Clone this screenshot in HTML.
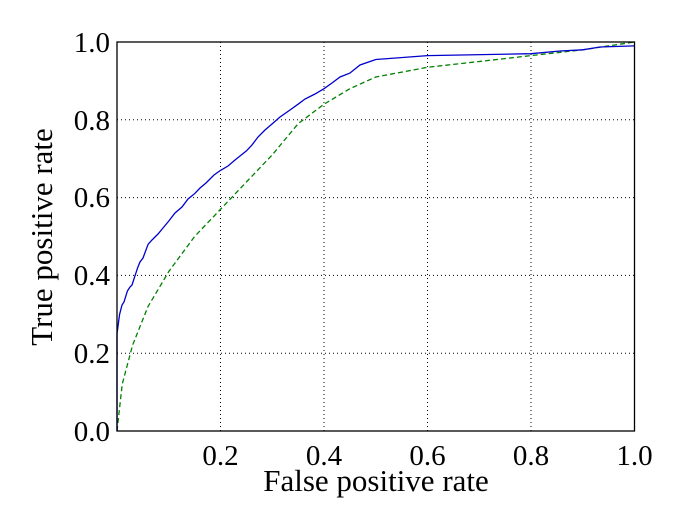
<!DOCTYPE html>
<html><head><style>body{margin:0;background:#fff}</style></head><body>
<svg width="679" height="516" xmlns="http://www.w3.org/2000/svg" font-family="Liberation Serif, serif">
<rect width="679" height="516" fill="#fff"/>
<g stroke="#000" stroke-width="1" stroke-dasharray="1,3">
<line x1="220.5" y1="42" x2="220.5" y2="431"/><line x1="324" y1="42" x2="324" y2="431"/><line x1="427.5" y1="42" x2="427.5" y2="431"/><line x1="531" y1="42" x2="531" y2="431"/>
<line x1="117" y1="353.2" x2="634.5" y2="353.2"/><line x1="117" y1="275.4" x2="634.5" y2="275.4"/><line x1="117" y1="197.6" x2="634.5" y2="197.6"/><line x1="117" y1="119.8" x2="634.5" y2="119.8"/>
</g>
<polyline fill="none" stroke="#008000" stroke-width="1.3" stroke-dasharray="5,3" points="117,431 122.2,384.3 132.5,345.4 148,306.5 168.8,271.5 194.6,236.5 220.5,209.3 246.4,182 272.3,154.8 298.1,123.7 324,104.2 349.9,88.7 375.8,77 427.5,67.3 479.3,61.5 531,55.6 582.8,49.8 634.5,42"/>
<polyline fill="none" stroke="#0000cc" stroke-width="1.3" points="117,431 117,333.75 119.6,314.3 122,305 124,302 127.4,291 130,287 132,285 137.7,267.6 140,262 143,258 148.1,244.3 152,240 158,234 163,228 168.8,221 175,213 182,207 188,199 194.6,193.7 200,188 206,183 214,175 220.5,170.4 228,166 235,160 240,156 246.4,150.9 252,145 258,137 265,130 272.3,123.7 280,117 290,110 298.1,104.2 305,99 315,94 324,88.7 332,83 340,77 349.9,73.1 360,65 375.8,59.5 427.5,55.6 531,53.7 560,51 582.8,49.8 600,47 634.5,45.9"/>
<rect x="117" y="42" width="517.5" height="389" fill="none" stroke="#000" stroke-width="1.3"/>
<g font-size="29" text-anchor="end">
<text x="110" y="441">0.0</text><text x="110" y="363">0.2</text><text x="110" y="285">0.4</text><text x="110" y="207">0.6</text><text x="110" y="130">0.8</text><text x="110" y="52">1.0</text>
</g>
<g font-size="29" text-anchor="middle">
<text x="220.5" y="465">0.2</text><text x="324" y="465">0.4</text><text x="427.5" y="465">0.6</text><text x="531" y="465">0.8</text><text x="634.5" y="465">1.0</text>
</g>
<text x="376" y="491" font-size="31" text-anchor="middle">False positive rate</text>
<text transform="translate(52,237) rotate(-90)" font-size="31" text-anchor="middle">True positive rate</text>
</svg>
</body></html>
